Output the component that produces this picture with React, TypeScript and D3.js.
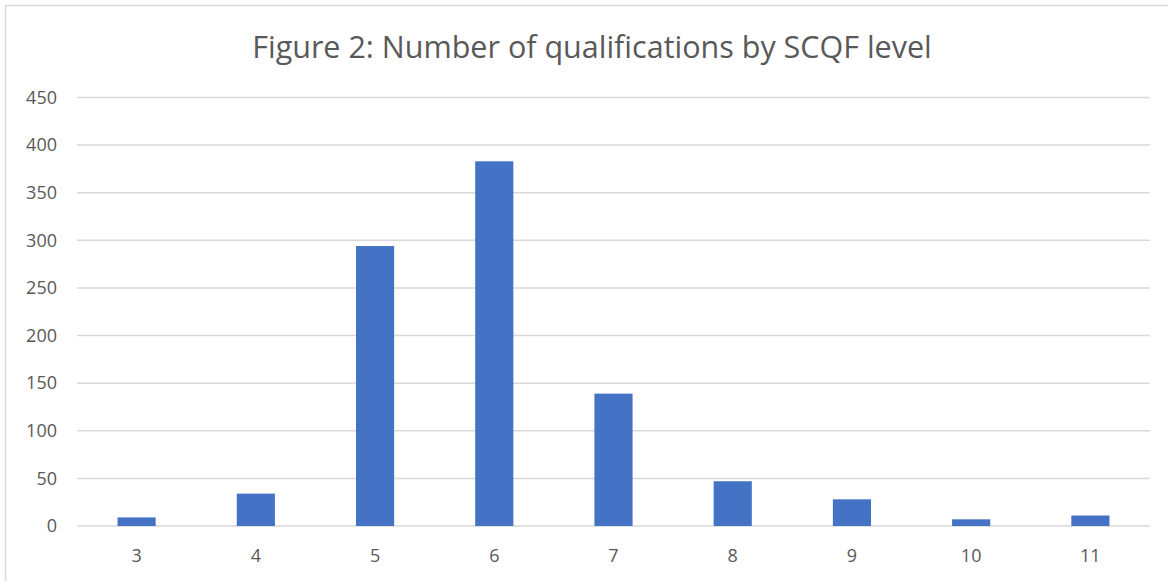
import { useEffect, useRef } from 'react';
import * as d3 from 'd3';

const TITLE = 'Figure 2: Number of qualifications by SCQF level';
const LEVELS = ['3', '4', '5', '6', '7', '8', '9', '10', '11'];
const COUNTS = [9, 34, 294, 383, 139, 47, 28, 7, 11];
const Y_TICKS = [0, 50, 100, 150, 200, 250, 300, 350, 400, 450];

const WIDTH = 1168;
const HEIGHT = 581;
const FONT = '"Open Sans", Lato, sans-serif';
const TEXT_COLOR = '#595959';

export default function App() {
  const svgRef = useRef<SVGSVGElement>(null);

  useEffect(() => {
    if (!svgRef.current) return;
    const svg = d3.select(svgRef.current);
    svg.selectAll('*').remove();

    const margin = { top: 97.5, right: 18, bottom: 55, left: 77 };

    const x = d3
      .scaleBand<string>()
      .domain(LEVELS)
      .range([margin.left, WIDTH - margin.right])
      .paddingInner(0.68)
      .paddingOuter(0.34);

    const y = d3
      .scaleLinear()
      .domain([0, 450])
      .range([HEIGHT - margin.bottom, margin.top]);

    svg.append('rect').attr('width', WIDTH).attr('height', HEIGHT).attr('fill', '#fff');

    // chart area border (only top/left visible in crop)
    svg
      .append('rect')
      .attr('x', 5.5)
      .attr('y', 5.5)
      .attr('width', WIDTH + 20)
      .attr('height', HEIGHT + 20)
      .attr('fill', 'none')
      .attr('stroke', '#d9d9d9')
      .attr('stroke-width', 1.5);

    svg
      .append('text')
      .attr('x', 592)
      .attr('y', 58)
      .attr('text-anchor', 'middle')
      .style('font-family', FONT)
      .style('font-size', '30.5px')
      .style('fill', TEXT_COLOR)
      .text(TITLE);

    // gridlines
    svg
      .append('g')
      .selectAll('line')
      .data(Y_TICKS)
      .enter()
      .append('line')
      .attr('x1', margin.left)
      .attr('x2', WIDTH - margin.right)
      .attr('y1', (d) => y(d))
      .attr('y2', (d) => y(d))
      .attr('stroke', '#d9d9d9')
      .attr('stroke-width', 1.5);

    // y labels
    svg
      .append('g')
      .selectAll('text')
      .data(Y_TICKS)
      .enter()
      .append('text')
      .attr('x', 57)
      .attr('y', (d) => y(d))
      .attr('dy', '0.35em')
      .attr('text-anchor', 'end')
      .style('font-family', FONT)
      .style('font-size', '18px')
      .style('fill', TEXT_COLOR)
      .text((d) => d);

    // bars
    svg
      .append('g')
      .selectAll('rect')
      .data(COUNTS)
      .enter()
      .append('rect')
      .attr('x', (d, i) => x(LEVELS[i])!)
      .attr('y', (d) => y(d))
      .attr('width', x.bandwidth())
      .attr('height', (d) => y(0) - y(d))
      .attr('fill', '#4472c4');

    // x labels
    svg
      .append('g')
      .selectAll('text')
      .data(LEVELS)
      .enter()
      .append('text')
      .attr('x', (d) => x(d)! + x.bandwidth() / 2)
      .attr('y', y(0) + 36)
      .attr('text-anchor', 'middle')
      .style('font-family', FONT)
      .style('font-size', '18px')
      .style('fill', TEXT_COLOR)
      .text((d) => d);
  }, []);

  return (
    <div style={{ position: 'absolute', left: 0, top: 0 }}>
      <svg ref={svgRef} width={WIDTH} height={HEIGHT} style={{ display: 'block' }} />
    </div>
  );
}
